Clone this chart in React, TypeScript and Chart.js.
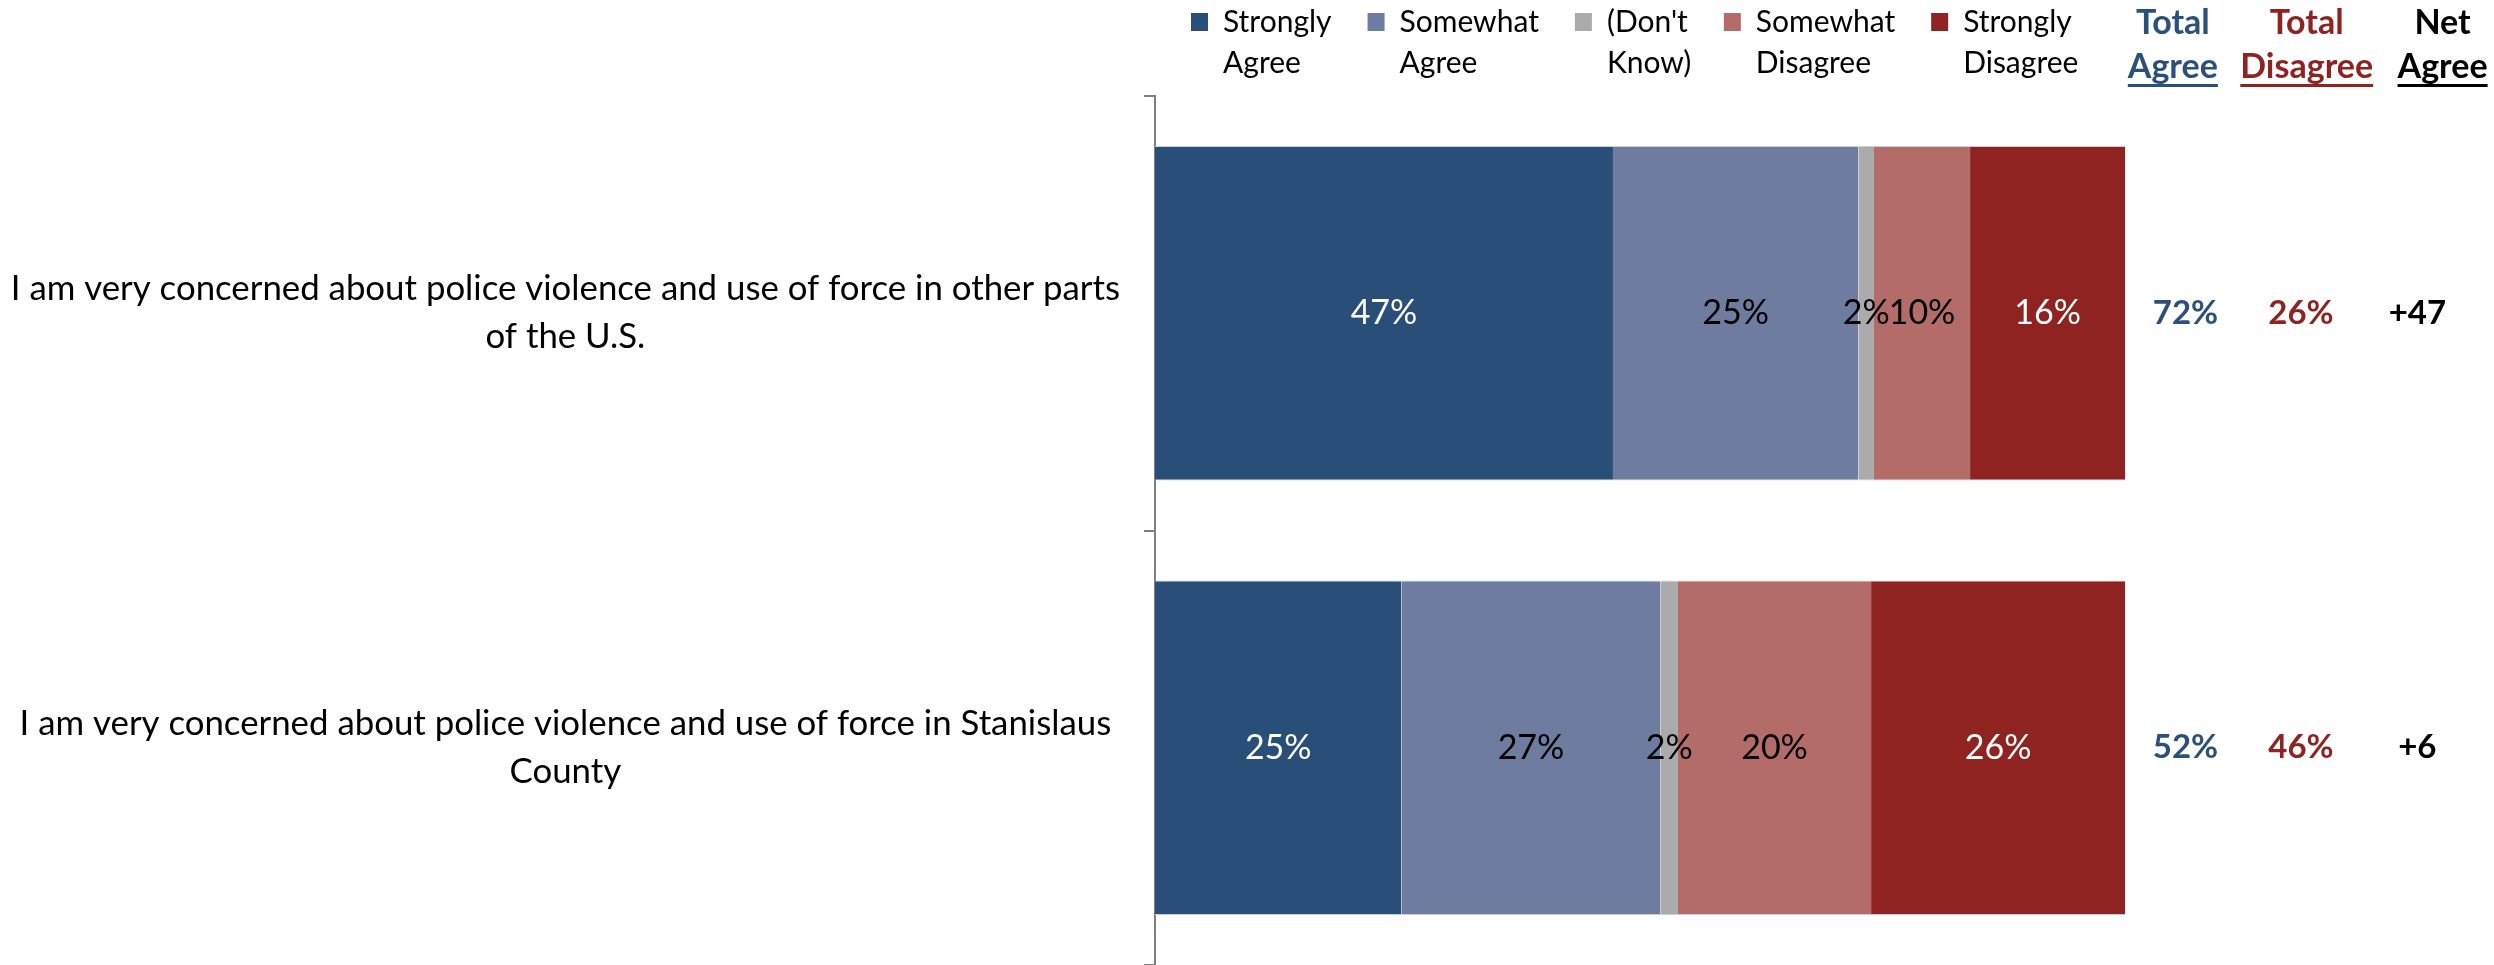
import React, { useEffect, useRef } from 'react';
import { Chart, registerables } from 'chart.js';

Chart.register(...registerables);

// ---------- data ----------
const categories = [
  ['I am very concerned about police violence and use of force in other parts', 'of the U.S.'],
  ['I am very concerned about police violence and use of force in Stanislaus', 'County'],
];
const seriesNames = [
  ['Strongly', 'Agree'],
  ['Somewhat', 'Agree'],
  ["(Don't", 'Know)'],
  ['Somewhat', 'Disagree'],
  ['Strongly', 'Disagree'],
];
const stronglyAgree = [47.2, 25.4];
const somewhatAgree = [25.3, 26.7];
const dontKnow = [1.6, 1.8];
const somewhatDisagree = [9.9, 19.9];
const stronglyDisagree = [16.0, 26.2];

const headerLabels = [
  ['Total', 'Agree'],
  ['Total', 'Disagree'],
  ['Net', 'Agree'],
];
const totalAgree = ['72%', '52%'];
const totalDisagree = ['26%', '46%'];
const netAgree = ['+47', '+6'];

// ---------- styles / layout ----------
const X_MAX = 138;
const seriesColors = ['#294E77', '#6D7C9F', '#ABABAD', '#B46C69', '#8E2321'];
const segmentLabelColors = ['#FFFFFF', '#000000', '#000000', '#000000', '#FFFFFF'];
const summaryColors = ['#2B5079', '#8E2422', '#000000'];
const headerColumnX = [104.9, 118.7, 132.7];
const valueColumnX = [106.2, 118.1, 130.1];
const FONT = 'Lato';

function multiLine(lines: string[]) {
  const arr: any = [...lines];
  const longest = lines.reduce((a, b) => (a.length >= b.length ? a : b));
  arr.toString = () => longest;
  return arr;
}

const legendClipPlugin = {
  id: 'legendClip',
  afterLayout(chart: any) {
    if (chart.legend) chart.legend.bottom = chart.chartArea.top;
  },
};

const segmentLabelPlugin = {
  id: 'segmentLabels',
  afterDatasetsDraw(chart: any) {
    const ctx = chart.ctx;
    ctx.save();
    ctx.font = `34px ${FONT}`;
    ctx.textAlign = 'center';
    ctx.textBaseline = 'middle';
    chart.data.datasets.forEach((ds: any, i: number) => {
      const meta = chart.getDatasetMeta(i);
      meta.data.forEach((bar: any, j: number) => {
        const { x, y, base } = bar.getProps(['x', 'y', 'base'], true);
        ctx.fillStyle = segmentLabelColors[i];
        ctx.fillText(`${Math.round(ds.data[j])}%`, (x + base) / 2, y);
      });
    });
    ctx.restore();
  },
};

const summaryPlugin = {
  id: 'summaryColumns',
  afterDraw(chart: any) {
    const { ctx } = chart;
    const xs = chart.scales.x;
    const ys = chart.scales.y;
    ctx.save();
    ctx.textAlign = 'center';
    ctx.textBaseline = 'middle';
    ctx.font = `bold 34px ${FONT}`;
    headerLabels.forEach((h, k) => {
      const cx = xs.getPixelForValue(headerColumnX[k]);
      ctx.fillStyle = summaryColors[k];
      ctx.fillText(h[0], cx, 23);
      ctx.fillText(h[1], cx, 67);
      const w = ctx.measureText(h[1]).width;
      ctx.fillRect(cx - w / 2, 84, w, 3);
    });
    ctx.font = `bold 33px ${FONT}`;
    const cols = [totalAgree, totalDisagree, netAgree];
    cols.forEach((col, k) => {
      const cx = xs.getPixelForValue(valueColumnX[k]);
      ctx.fillStyle = summaryColors[k];
      col.forEach((txt, j) => ctx.fillText(txt, cx, ys.getPixelForValue(j)));
    });
    ctx.restore();
  },
};

export default function App() {
  const canvasRef = useRef<HTMLCanvasElement | null>(null);

  useEffect(() => {
    document.body.style.margin = '0';
    const canvas = canvasRef.current;
    if (!canvas) return;
    const values = [stronglyAgree, somewhatAgree, dontKnow, somewhatDisagree, stronglyDisagree];
    const chart = new Chart(canvas, {
      type: 'bar',
      data: {
        labels: categories,
        datasets: values.map((v, i) => ({
          label: seriesNames[i].join(' '),
          data: v,
          backgroundColor: seriesColors[i],
          borderColor: '#C9CFD8',
          borderWidth: { top: 1, bottom: 1, left: 0, right: 0 },
          borderSkipped: false,
          barPercentage: 0.77,
          categoryPercentage: 1,
        })),
      },
      options: {
        indexAxis: 'y',
        responsive: false,
        maintainAspectRatio: false,
        animation: false,
        events: [],
        layout: { padding: { top: -29, right: 0, left: 0, bottom: 0 } },
        scales: {
          x: {
            stacked: true,
            min: 0,
            max: X_MAX,
            position: 'top',
            grid: { display: false, drawTicks: false },
            border: { display: false },
            ticks: { display: false },
            afterFit: (s: any) => {
              s.height = 49;
            },
          },
          y: {
            stacked: true,
            grid: {
              display: true,
              drawOnChartArea: false,
              drawTicks: true,
              tickLength: 11,
              color: '#7F7F7F',
              lineWidth: 2,
              offset: true,
            },
            border: { display: true, color: '#7F7F7F', width: 2 },
            ticks: {
              color: '#000000',
              padding: 24,
              crossAlign: 'center',
              font: { family: FONT, size: 34.8, lineHeight: 1.38 },
            },
            afterFit: (s: any) => {
              s.width = 1155;
              s.paddingTop = 0;
              s.paddingBottom = 0;
            },
          },
        },
        plugins: {
          tooltip: { enabled: false },
          title: { display: false },
          legend: {
            display: true,
            position: 'top',
            align: 'start',
            fullSize: false,
            labels: {
              boxWidth: 17,
              boxHeight: 18,
              padding: 36,
              color: '#000000',
              font: { family: FONT, size: 30, lineHeight: 1.37 },
              generateLabels: (c: any) =>
                c.data.datasets.map((ds: any, i: number) => ({
                  text: multiLine(seriesNames[i]),
                  fillStyle: ds.backgroundColor,
                  strokeStyle: ds.backgroundColor,
                  lineWidth: 0,
                  hidden: false,
                  datasetIndex: i,
                  fontColor: '#000000',
                })),
            },
          },
        },
      },
      plugins: [legendClipPlugin, segmentLabelPlugin, summaryPlugin],
    } as any);
    return () => chart.destroy();
  }, []);

  return (
    <div style={{ width: 2494, height: 965 }}>
      <canvas ref={canvasRef} width={2494} height={965} style={{ display: 'block' }} />
    </div>
  );
}
